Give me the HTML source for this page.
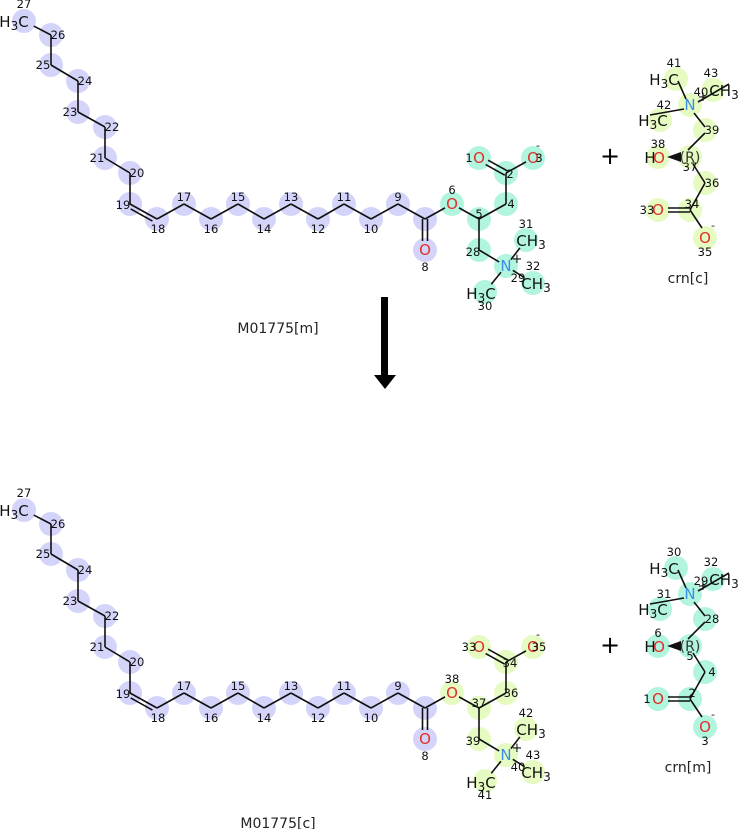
<!DOCTYPE html>
<html><head><meta charset="utf-8"><style>html,body{margin:0;padding:0;background:#fff;width:741px;height:829px;overflow:hidden}svg{display:block}text{font-family:"DejaVu Sans","Liberation Sans",sans-serif}</style></head>
<body>
<svg id="s" width="741" height="829" xmlns="http://www.w3.org/2000/svg">
<g id="g"></g>
<text x="278" y="333" font-size="14" text-anchor="middle" fill="#222">M01775[m]</text>
<text x="278" y="828" font-size="14" text-anchor="middle" fill="#222">M01775[c]</text>
<text x="688" y="283" font-size="14" text-anchor="middle" fill="#222">crn[c]</text>
<text x="688" y="772" font-size="14" text-anchor="middle" fill="#222">crn[m]</text>
<text x="610" y="164" font-size="24" text-anchor="middle" fill="#000">+</text>
<text x="610" y="653" font-size="24" text-anchor="middle" fill="#000">+</text>
<rect x="381" y="297" width="7" height="80" fill="#000"/>
<polygon points="374,375 396,375 385,389" fill="#000"/>
</svg>
<script>
const g=document.getElementById('g');let out='';
const PUR='#d4d4fa',CY='#b2f5de',LI='#e6fbc2';
function mol(dy,cBig,cSmall,lab){
 const P={27:[24,21],26:[51,35],25:[51,65],24:[78,81],23:[78,112],22:[105,127],21:[105,158],20:[130,173],19:[130,204],18:[157,219],17:[184,204],16:[211,219],15:[238,204],14:[264,219],13:[291,204],12:[318,219],11:[344,204],10:[371,219],9:[398,204],7:[425,219],8:[425,250],6:[452,204],5:[479,219],4:[506,204],2:[506,173],1:[479,158],3:[533,158],28:[479,250],29:[506,266],31:[526,240],32:[533,283],30:[485,292]};
 for(const k in P)P[k]=[P[k][0],P[k][1]+dy];
 const purple=[27,26,25,24,23,22,21,20,19,18,17,16,15,14,13,12,11,10,9,7,8];
 for(const k in P){const c=purple.includes(+k)?PUR:cBig;out+=`<circle cx="${P[k][0]}" cy="${P[k][1]}" r="12" fill="${c}"/>`;}
 const B=[[27,26],[26,25],[25,24],[24,23],[23,22],[22,21],[21,20],[20,19],[18,17],[17,16],[16,15],[15,14],[14,13],[13,12],[12,11],[11,10],[10,9],[9,7],[7,6],[6,5],[5,4],[4,2],[2,3],[5,28],[28,29],[29,31],[29,32],[29,30]];
 const sh=(a,b,s1,s2)=>{let[x1,y1]=P[a],[x2,y2]=P[b];const dx=x2-x1,dyy=y2-y1,L=Math.hypot(dx,dyy);return[x1+dx*s1/L,y1+dyy*s1/L,x2-dx*s2/L,y2-dyy*s2/L];};
 const labeled={27:11,6:8,8:9,1:8,3:8,29:8,31:10,32:10,30:10};
 B.forEach(([a,b])=>{const[x1,y1,x2,y2]=sh(a,b,labeled[a]||0,labeled[b]||0);out+=`<line x1="${x1}" y1="${y1}" x2="${x2}" y2="${y2}" stroke="#111" stroke-width="1.6"/>`;});
 const dbl=(a,b,off,s1,s2)=>{let[x1,y1,x2,y2]=sh(a,b,s1,s2);const dx=x2-x1,dyy=y2-y1,L=Math.hypot(dx,dyy);const nx=-dyy/L*off,ny=dx/L*off;out+=`<line x1="${x1+nx}" y1="${y1+ny}" x2="${x2+nx}" y2="${y2+ny}" stroke="#111" stroke-width="1.6"/>`;};
 dbl(19,18,4,3,3);dbl(19,18,0,0,0);
 dbl(7,8,-2.5,0,9);dbl(7,8,2.5,0,9);
 dbl(2,1,-2.5,0,9);dbl(2,1,2.5,0,9);
 const t=(x,y,s,sz,col,anc)=>{out+=`<text x="${x}" y="${y}" font-size="${sz}" fill="${col||'#111'}" text-anchor="${anc||'middle'}">${s}</text>`;};
 const R='#e0302a',N='#3a8ee6';
 t(14,27+dy,'H<tspan font-size="12" dy="3">3</tspan><tspan dy="-3">C</tspan>',15,'#111');
 t(P[6][0],P[6][1]+5,'O',15,R);t(P[8][0],P[8][1]+5,'O',15,R);t(P[1][0],P[1][1]+5,'O',15,R);t(P[3][0],P[3][1]+5,'O',15,R);
 t(P[29][0],P[29][1]+5,'N',15,N);t(517,P[29][1]-3,'+',13);
 t(531,P[31][1]+6,'CH<tspan font-size="12" dy="3">3</tspan>',15);
 t(536,P[32][1]+6,'CH<tspan font-size="12" dy="3">3</tspan>',15);
 t(481,P[30][1]+7,'H<tspan font-size="12" dy="3">3</tspan><tspan dy="-3">C</tspan>',15);
 t(538,P[3][1]-9,'-',11);
 const nl=(n,dx,dyy)=>t(P[n][0]+dx,P[n][1]+dyy,lab[n]||n,11.5);
 nl(27,0,-13);nl(26,7,4);nl(25,-8,4);nl(24,7,4);nl(23,-8,4);nl(22,7,4);nl(21,-8,4);nl(20,7,4);nl(19,-7,5);nl(18,1,14);
 [17,15,13,11,9].forEach(n=>nl(n,0,-3));[16,14,12,10].forEach(n=>nl(n,0,14));
 nl(8,0,21);nl(6,0,-10);nl(5,0,-1);nl(4,5,4);nl(2,4,5);nl(1,-10,4);nl(3,6,4);nl(28,-6,6);nl(29,12,16);nl(31,0,-12);nl(32,0,-13);nl(30,0,18);
}
function crn(dy,c,lab){
 const P={41:[676,79],29:[690,105],43:[713,90],42:[660,120],39:[705,130],37:[690,157],38:[658,157],36:[705,183],34:[690,210],33:[658,210],35:[705,238]};
 for(const k in P)P[k]=[P[k][0],P[k][1]+dy];
 for(const k in P)out+=`<circle cx="${P[k][0]}" cy="${P[k][1]}" r="12" fill="${c}"/>`;
 const L=(a,b,x1o,y1o,x2o,y2o)=>out+=`<line x1="${P[a][0]+x1o}" y1="${P[a][1]+y1o}" x2="${P[b][0]+x2o}" y2="${P[b][1]+y2o}" stroke="#111" stroke-width="1.6"/>`;
 L(41,29,2,2,-4,-6);L(29,43,8,-3,16,-6);L(29,42,-6,4,-10,-5);L(29,39,4,8,0,-3);L(39,37,0,3,-2,-7);L(37,36,3,7,0,0);L(36,34,0,0,0,0);L(34,35,0,0,-3,-10);
 L(34,33,0,-2,10,-2);L(34,33,0,2,10,2);
 out+=`<polygon points="${P[38][0]+9},${P[37][1]} ${P[37][0]-9},${P[37][1]-5} ${P[37][0]-9},${P[37][1]+5}" fill="#111"/>`;
 const t=(x,y,s,sz,col,anc)=>{out+=`<text x="${x}" y="${y}" font-size="${sz}" fill="${col||'#111'}" text-anchor="${anc||'middle'}">${s}</text>`;};
 const R='#e0302a',N='#3a8ee6';
 t(664,P[41][1]+6,'H<tspan font-size="12" dy="3">3</tspan><tspan dy="-3">C</tspan>',15);
 t(653,P[42][1]+6,'H<tspan font-size="12" dy="3">3</tspan><tspan dy="-3">C</tspan>',15);
 t(724,P[43][1]+6,'CH<tspan font-size="12" dy="3">3</tspan>',15);
 t(P[29][0],P[29][1]+5,'N',15,N);t(703,P[29][1]-4,'+',13);
 t(650,P[38][1]+6,'H',15);t(659,P[38][1]+6,'O',15,R);
 t(P[37][0],P[37][1]+5,'(R)',14,'#333');
 t(P[33][0],P[33][1]+5,'O',15,R);t(P[35][0],P[35][1]+5,'O',15,R);t(713,P[35][1]-9,'-',11);
 const nl=(n,x,y)=>t(P[n][0]+x,P[n][1]+y,lab[n],11.5);
 nl(41,-2,-12);nl(43,-2,-13);nl(42,4,-11);nl(29,11,-9);nl(39,7,4);nl(37,0,14);nl(38,0,-9);nl(36,7,4);nl(34,2,-2);nl(33,-11,4);nl(35,0,18);
}
mol(0,CY,CY,{});
mol(489,LI,LI,{1:33,2:34,3:35,4:36,5:37,6:38,28:39,29:40,30:41,31:42,32:43});
crn(0,LI,{41:41,43:43,42:42,29:40,39:39,37:37,38:38,36:36,34:34,33:33,35:35});
crn(489,CY,{41:30,43:32,42:31,29:29,39:28,37:5,38:6,36:4,34:2,33:1,35:3});
g.innerHTML=out;
</script>
</body></html>
